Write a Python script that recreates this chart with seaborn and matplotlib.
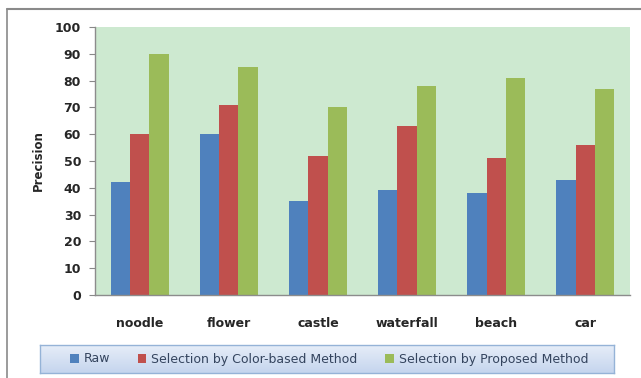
import pandas as pd
import numpy as np
import matplotlib
matplotlib.use('Agg')
import matplotlib.pyplot as plt
import seaborn as sns
from matplotlib.patches import Patch
from matplotlib.lines import Line2D
from matplotlib.colors import LinearSegmentedColormap

# --- datos ---
categorias = ['noodle', 'flower', 'castle', 'waterfall', 'beach', 'car']
raw = [42, 60, 35, 39, 38, 43]
color_based = [60, 71, 52, 63, 51, 56]
proposed = [90, 85, 70, 78, 81, 77]
series = ['Raw', 'Selection by Color-based Method', 'Selection by Proposed Method']
colores = ['#4F81BD', '#C0504D', '#9BBB59']

df = pd.DataFrame({
    'Category': categorias * 3,
    'Method': [series[0]] * 6 + [series[1]] * 6 + [series[2]] * 6,
    'Precision': raw + color_based + proposed,
})

sns.set_theme(style="white")
plt.rcParams['font.family'] = ['DejaVu Sans']

fig = plt.figure(figsize=(6.41, 3.78), dpi=100)
W, H = 641, 378
ax = fig.add_axes([95 / W, 1 - 295 / H, (630 - 95) / W, (295 - 27) / H])
ax.set_facecolor('#CDE9D0')

sns.barplot(data=df, x='Category', y='Precision', hue='Method', hue_order=series,
            palette=colores, width=0.65, saturation=1, linewidth=0, ax=ax, legend=False)

ax.set_ylim(0, 100)
ax.set_yticks(range(0, 101, 10))
ax.set_xlim(-0.5, 5.5)
ax.set_xlabel('')
ax.set_ylabel('Precision', fontsize=8.5, fontweight='bold', labelpad=7)
ax.tick_params(axis='y', length=4, width=0.8, color='#888888', labelsize=9, pad=6, direction='out', left=True)
ax.tick_params(axis='x', length=0, labelsize=9, pad=16)
for lbl in ax.get_yticklabels() + ax.get_xticklabels():
    lbl.set_fontweight('bold')
for s in ['top', 'right']:
    ax.spines[s].set_visible(False)
for s in ['left', 'bottom']:
    ax.spines[s].set_color('#8C8C8C')
    ax.spines[s].set_linewidth(1.0)

# marco exterior (gris)
fig.add_artist(Line2D([7 / W, 1], [1 - 9 / H, 1 - 9 / H], color='#8A8A8A', lw=1.5))
fig.add_artist(Line2D([7 / W, 7 / W], [0, 1 - 9 / H], color='#8A8A8A', lw=1.2))

# leyenda con fondo degradado
lax = fig.add_axes([40 / W, 1 - 373 / H, (614 - 40) / W, (373 - 345) / H])
grad = np.linspace(0, 1, 50).reshape(-1, 1)
cmap = LinearSegmentedColormap.from_list('g', ['#E6EDF8', '#C5D5EE'])
lax.imshow(grad, aspect='auto', cmap=cmap, extent=[0, 1, 0, 1], origin='upper')
lax.set_xticks([])
lax.set_yticks([])
for s in lax.spines.values():
    s.set_color('#95B3D7')
    s.set_linewidth(1.0)

handles = [Patch(facecolor=c, edgecolor='none') for c in colores]
leg = fig.legend(handles, series, loc='center', bbox_to_anchor=(329 / W, 1 - 359 / H),
                 ncol=3, frameon=False, fontsize=9, handlelength=0.7, handleheight=0.7,
                 handletextpad=0.4, columnspacing=2.2)
for t in leg.get_texts():
    t.set_color('#34445E')

fig.savefig('out.png', dpi=100)
